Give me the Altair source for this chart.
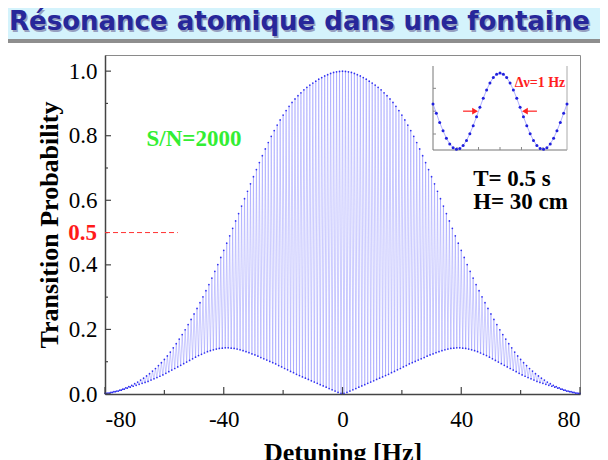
import altair as alt
import pandas as pd

# ---------------- data ----------------
peak_hz = list(range(-80, 81))
peak_prob = [
    0.002, 0.003, 0.005, 0.007, 0.009, 0.012, 0.015, 0.019, 0.023, 0.027,
    0.032, 0.037, 0.043, 0.049, 0.056, 0.063, 0.071, 0.079, 0.088, 0.097,
    0.107, 0.118, 0.130, 0.143, 0.156, 0.170, 0.184, 0.199, 0.215, 0.231,
    0.248, 0.265, 0.283, 0.301, 0.320, 0.339, 0.359, 0.380, 0.401, 0.423,
    0.445, 0.467, 0.490, 0.513, 0.536, 0.559, 0.582, 0.605, 0.628, 0.651,
    0.673, 0.695, 0.717, 0.738, 0.759, 0.779, 0.798, 0.816, 0.833, 0.849,
    0.864, 0.878, 0.891, 0.903, 0.914, 0.924, 0.933, 0.942, 0.950, 0.957,
    0.963, 0.969, 0.975, 0.980, 0.985, 0.989, 0.993, 0.996, 0.998, 0.999,
    1.000,
    0.999, 0.998, 0.996, 0.993, 0.989, 0.985, 0.980, 0.975, 0.969, 0.963,
    0.957, 0.950, 0.942, 0.933, 0.924, 0.914, 0.903, 0.891, 0.878, 0.864,
    0.849, 0.833, 0.816, 0.798, 0.779, 0.759, 0.738, 0.717, 0.695, 0.673,
    0.651, 0.628, 0.605, 0.582, 0.559, 0.536, 0.513, 0.490, 0.467, 0.445,
    0.423, 0.401, 0.380, 0.359, 0.339, 0.320, 0.301, 0.283, 0.265, 0.248,
    0.231, 0.215, 0.199, 0.184, 0.170, 0.156, 0.143, 0.130, 0.118, 0.107,
    0.097, 0.088, 0.079, 0.071, 0.063, 0.056, 0.049, 0.043, 0.037, 0.032,
    0.027, 0.023, 0.019, 0.015, 0.012, 0.009, 0.007, 0.005, 0.003, 0.002,
]
trough_hz = [h + 0.5 for h in range(-80, 80)]
trough_prob = [
    0.002, 0.003, 0.005, 0.007, 0.009, 0.012, 0.015, 0.018, 0.021, 0.024,
    0.027, 0.030, 0.033, 0.036, 0.039, 0.043, 0.047, 0.051, 0.055, 0.059,
    0.064, 0.069, 0.074, 0.079, 0.084, 0.089, 0.094, 0.099, 0.104, 0.109,
    0.114, 0.119, 0.123, 0.127, 0.131, 0.134, 0.137, 0.139, 0.141, 0.142,
    0.143, 0.143, 0.142, 0.141, 0.139, 0.137, 0.134, 0.131, 0.128, 0.124,
    0.121, 0.117, 0.113, 0.109, 0.105, 0.101, 0.097, 0.093, 0.088, 0.084,
    0.079, 0.075, 0.070, 0.066, 0.061, 0.057, 0.053, 0.049, 0.045, 0.041,
    0.037, 0.033, 0.029, 0.025, 0.021, 0.017, 0.013, 0.009, 0.005, 0.002,
    0.002, 0.005, 0.009, 0.013, 0.017, 0.021, 0.025, 0.029, 0.033, 0.037,
    0.041, 0.045, 0.049, 0.053, 0.057, 0.061, 0.066, 0.070, 0.075, 0.079,
    0.084, 0.088, 0.093, 0.097, 0.101, 0.105, 0.109, 0.113, 0.117, 0.121,
    0.124, 0.128, 0.131, 0.134, 0.137, 0.139, 0.141, 0.142, 0.143, 0.143,
    0.142, 0.141, 0.139, 0.137, 0.134, 0.131, 0.127, 0.123, 0.119, 0.114,
    0.109, 0.104, 0.099, 0.094, 0.089, 0.084, 0.079, 0.074, 0.069, 0.064,
    0.059, 0.055, 0.051, 0.047, 0.043, 0.039, 0.036, 0.033, 0.030, 0.027,
    0.024, 0.021, 0.018, 0.015, 0.012, 0.009, 0.007, 0.005, 0.003, 0.002,
]

# inset: the central fringes
inset_hz = [
    -0.78, -0.741, -0.702, -0.663, -0.624, -0.585, -0.546, -0.507, -0.468, -0.429,
    -0.39, -0.351, -0.312, -0.273, -0.234, -0.195, -0.156, -0.117, -0.078, -0.039,
    0.0,
    0.039, 0.078, 0.117, 0.156, 0.195, 0.234, 0.273, 0.312, 0.351, 0.39,
    0.429, 0.468, 0.507, 0.546, 0.585, 0.624, 0.663, 0.702, 0.741, 0.78,
]
inset_prob = [
    0.594, 0.472, 0.351, 0.243, 0.144, 0.070, 0.021, 0.001, 0.010, 0.049,
    0.115, 0.204, 0.310, 0.428, 0.550, 0.669, 0.778, 0.871, 0.941, 0.985,
    1.000,
    0.985, 0.941, 0.871, 0.778, 0.669, 0.550, 0.428, 0.310, 0.204, 0.115,
    0.049, 0.010, 0.001, 0.021, 0.070, 0.144, 0.243, 0.351, 0.472, 0.594,
]
inset_x_domain = [-0.78, 0.78]
inset_y_domain = [-0.01, 1.08]
inset_x_ticks = [-0.5, -0.25, 0.0, 0.25, 0.5]
inset_y_ticks = [0.2, 0.5, 0.8]
arrow_from = [-0.43, 0.43]
arrow_to = [-0.29, 0.29]
arrow_level = [0.5, 0.5]

x_major = [-80, -40, 0, 40, 80]
x_minor = [-60, -20, 20, 60]
y_major = [0.0, 0.2, 0.4, 0.6, 0.8, 1.0]
y_minor = [0.1, 0.3, 0.5, 0.7, 0.9]

title_text = "Résonance atomique dans une fontaine"
x_title = "Detuning [Hz]"
y_title = "Transition Probability"

# ---------------- layout ----------------
W, H = 475, 339
PAD_L, PAD_T, PAD_R, PAD_B = 97, 47, 20, 66
SERIF = "Liberation Serif"
one = pd.DataFrame({"a": [0]})

X_DOM = [-80, 80]
Y_DOM = [0, 1.05]
xs = alt.Scale(domain=X_DOM, nice=False, zero=False)
ys = alt.Scale(domain=Y_DOM, nice=False, zero=False)

# inset box (pixels inside the plot area) and the same box in main data units
IX0, IX1, IY0, IY1 = 328, 462, 12, 95
BX0 = X_DOM[0] + IX0 / W * (X_DOM[1] - X_DOM[0])
BX1 = X_DOM[0] + IX1 / W * (X_DOM[1] - X_DOM[0])
BY0 = Y_DOM[1] * (1 - IY1 / H)   # bottom
BY1 = Y_DOM[1] * (1 - IY0 / H)   # top
KX = (BX1 - BX0) / (inset_x_domain[1] - inset_x_domain[0])
KY = (BY1 - BY0) / (inset_y_domain[1] - inset_y_domain[0])

def to_main_x(field):
    return f"{BX0} + (datum.{field} - ({inset_x_domain[0]})) * {KX}"

def to_main_y(field):
    return f"{BY0} + (datum.{field} - ({inset_y_domain[0]})) * {KY}"

fr = pd.DataFrame({"hz": peak_hz + trough_hz, "p": peak_prob + trough_prob}).sort_values("hz")

x_axis = alt.Axis(
    values=x_major, title=x_title, ticks=False, grid=False,
    labelFont=SERIF, labelFontSize=23, labelColor="black", labelPadding=14,
    labelExpr="datum.value < 0 ? '-' + abs(datum.value) : '' + datum.value",
    domainColor="#444444", domainWidth=1.5,
    titleFont=SERIF, titleFontSize=26, titleFontWeight="bold", titleColor="black",
    titlePadding=8,
)
y_axis = alt.Axis(
    values=y_major, format=".1f", title=y_title, ticks=False, grid=False,
    labelFont=SERIF, labelFontSize=23, labelColor="black", labelPadding=8,
    domainColor="#444444", domainWidth=1.5,
    titleFont=SERIF, titleFontSize=26, titleFontWeight="bold", titleColor="black",
    titlePadding=6,
)

band = alt.Chart(one).mark_rect(color="#d4f3fc").encode(
    x=alt.value(-PAD_L), x2=alt.value(W + PAD_R), y=alt.value(-PAD_T), y2=alt.value(-16))
bar = alt.Chart(one).mark_rect(color="#8e8e8e").encode(
    x=alt.value(-PAD_L), x2=alt.value(W + PAD_R), y=alt.value(-16), y2=alt.value(-12))
title_shadow = alt.Chart(one).mark_text(
    text=title_text, font="DejaVu Sans", fontWeight="bold", fontSize=26,
    color="#7d7da8", opacity=0.7, align="left", baseline="alphabetic",
).encode(x=alt.value(-94.5), y=alt.value(-23.5))
title = alt.Chart(one).mark_text(
    text=title_text, font="DejaVu Sans", fontWeight="bold", fontSize=26,
    color="#27279a", align="left", baseline="alphabetic",
).encode(x=alt.value(-96), y=alt.value(-25))

fr_line = alt.Chart(fr).mark_line(color="#7878ff", strokeWidth=0.45, opacity=0.85).encode(
    x=alt.X("hz:Q", scale=xs, axis=x_axis),
    y=alt.Y("p:Q", scale=ys, axis=y_axis),
    order="hz:Q",
)
fr_pts = alt.Chart(fr).mark_circle(color="#1414ee", size=3, opacity=0.85).encode(
    x=alt.X("hz:Q"), y=alt.Y("p:Q"))

def yticks(vals, length):
    return alt.Chart(pd.DataFrame({"v": vals})).mark_rule(color="#444444", strokeWidth=1.2).encode(
        y=alt.Y("v:Q"), x=alt.value(0), x2=alt.value(length))

def xticks(vals, length):
    return alt.Chart(pd.DataFrame({"v": vals})).mark_rule(color="#444444", strokeWidth=1.2).encode(
        x=alt.X("v:Q"), y=alt.value(H), y2=alt.value(H - length))

half_df = pd.DataFrame({"x0": [-80], "x1": [-55.5], "v": [0.5]})
half_line = alt.Chart(half_df).mark_rule(color="#ff3030", strokeDash=[5, 3], strokeWidth=1).encode(
    x="x0:Q", x2="x1:Q", y="v:Q")
half_label = alt.Chart(half_df).mark_text(
    text="0.5", font=SERIF, fontSize=23, fontWeight="bold", color="#ff1a1a",
    align="right", baseline="middle").encode(x=alt.value(-8), y="v:Q")

def note(txt, xv, yv, color, size):
    return alt.Chart(pd.DataFrame({"nx": [xv], "ny": [yv]})).mark_text(
        text=txt, font=SERIF, fontWeight="bold", fontSize=size, color=color,
        align="left", baseline="alphabetic").encode(x="nx:Q", y="ny:Q")

# ---------------- inset ----------------
ins = pd.DataFrame({"ix": inset_hz, "iy": inset_prob})
arr = pd.DataFrame({"a0": arrow_from, "a1": arrow_to, "ay": arrow_level})

inset_bg = alt.Chart(one).mark_rect(fill="white").encode(
    x=alt.value(IX0), x2=alt.value(IX1), y=alt.value(IY0), y2=alt.value(IY1))
inset_left = alt.Chart(one).mark_rule(color="#777777", strokeWidth=1).encode(
    x=alt.value(IX0), y=alt.value(IY0 - 1), y2=alt.value(IY1))
inset_bottom = alt.Chart(one).mark_rule(color="#777777", strokeWidth=1).encode(
    x=alt.value(IX0), x2=alt.value(IX1), y=alt.value(IY1))
inset_right = alt.Chart(one).mark_rule(color="#aaaaaa", strokeWidth=1).encode(
    x=alt.value(IX1), y=alt.value(IY0 - 1), y2=alt.value(IY1))
inset_xt = alt.Chart(pd.DataFrame({"v": inset_x_ticks})).transform_calculate(
    mx=to_main_x("v")).mark_rule(color="#888888").encode(
    x="mx:Q", y=alt.value(IY1), y2=alt.value(IY1 - 3))
inset_yt = alt.Chart(pd.DataFrame({"v": inset_y_ticks})).transform_calculate(
    my=to_main_y("v")).mark_rule(color="#888888").encode(
    y="my:Q", x=alt.value(IX0), x2=alt.value(IX0 + 3))
inset_base = alt.Chart(ins).transform_calculate(mx=to_main_x("ix"), my=to_main_y("iy"))
inset_line = inset_base.mark_line(color="#9a9aff", strokeWidth=0.8).encode(
    x="mx:Q", y="my:Q", order="ix:Q")
inset_pts = inset_base.mark_circle(color="#2020dd", size=9, opacity=1).encode(
    x="mx:Q", y="my:Q")
arr_base = alt.Chart(arr).transform_calculate(
    m0=to_main_x("a0"), m1=to_main_x("a1"), my=to_main_y("ay"))
arrow_shaft = arr_base.mark_rule(color="#ff2020", strokeWidth=1.2).encode(
    x="m0:Q", x2="m1:Q", y="my:Q")
head_r = arr_base.transform_filter("datum.a0 < 0").mark_point(
    shape="triangle-right", filled=True, color="#ff2020", size=45, opacity=1).encode(
    x="m1:Q", y="my:Q")
head_l = arr_base.transform_filter("datum.a0 > 0").mark_point(
    shape="triangle-left", filled=True, color="#ff2020", size=45, opacity=1).encode(
    x="m1:Q", y="my:Q")

chart = alt.layer(
    band, bar, title_shadow, title,
    fr_line, fr_pts,
    yticks(y_major, 6), yticks(y_minor, 3), xticks(x_major, 7), xticks(x_minor, 4),
    half_line, half_label,
    inset_bg, inset_left, inset_bottom, inset_right, inset_xt, inset_yt,
    inset_line, inset_pts, arrow_shaft, head_r, head_l,
    note("S/N=2000", -66, 0.768, "#33ee33", 23),
    note("T= 0.5 s", 44, 0.644, "black", 23),
    note("H= 30 cm", 44, 0.573, "black", 23),
    note("Δν=1  Hz", 58, 0.950, "#ff2020", 14),
).properties(
    width=W, height=H,
    padding={"left": PAD_L, "top": PAD_T, "right": PAD_R, "bottom": PAD_B},
    autosize=alt.AutoSizeParams(type="none"),
    background="white",
).configure_view(stroke="#8a8a8a", strokeWidth=1)

chart.save("out.html", embed_options={"renderer": "svg", "actions": False})
